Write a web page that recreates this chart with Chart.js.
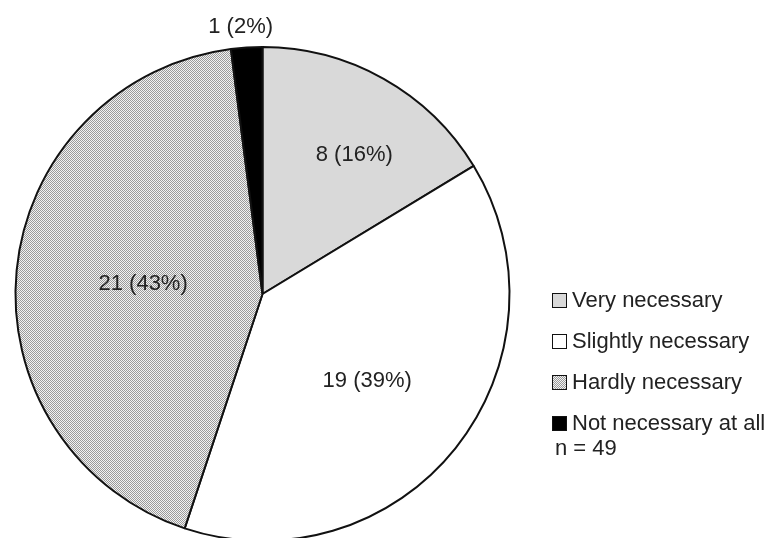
<!DOCTYPE html>
<html>
<head>
<meta charset="utf-8">
<script src="https://cdn.jsdelivr.net/npm/chart.js@4.4.0/dist/chart.umd.min.js"></script>
<style>
  html, body { margin: 0; padding: 0; background: #fff; }
  #wrap { position: relative; width: 778px; height: 538px; overflow: hidden; }
  #wrap canvas { position: absolute; left: 0; top: 0; }
  #legend { position: absolute; left: 552px; top: 288px; font-family: "Liberation Sans", Arial, sans-serif; font-size: 22px; color: #222; white-space: nowrap; }
  .item { display: flex; align-items: center; height: 24px; margin-bottom: 17px; }
  .box { width: 13px; height: 13px; border: 1.5px solid #111; margin-right: 5px; box-sizing: content-box; }
  #note { line-height: 24px; margin-top: -16px; padding-left: 3px; }
</style>
</head>
<body>
<div id="wrap">
  <canvas id="pie" width="778" height="550" style="width:778px;height:550px"></canvas>
  <div id="legend"></div>
</div>
<script>
// values
const categories = ['Very necessary', 'Slightly necessary', 'Hardly necessary', 'Not necessary at all'];
const counts = [8, 19, 21, 1];
const percents = [16, 39, 43, 2];
const sampleNote = 'n = 49';

// dotted texture for the "hardly" slice
const tile = document.createElement('canvas');
tile.width = 2; tile.height = 2;
const tctx = tile.getContext('2d');
tctx.fillStyle = '#f2f2f2';
tctx.fillRect(0, 0, 2, 2);
tctx.fillStyle = '#9a9a9a';
tctx.fillRect(0, 0, 1, 1);
tctx.fillRect(1, 1, 1, 1);

const ctx = document.getElementById('pie');
const dots = ctx.getContext('2d').createPattern(tile, 'repeat');
const fills = ['#d9d9d9', '#ffffff', dots, '#000000'];

// label placement: fraction of radius, angle shift in degrees
const labelPos = [[0.675, 4], [0.55, 1], [0.485, -0.7], [1.085, -1]];

const sliceLabels = {
  id: 'sliceLabels',
  afterDatasetsDraw(chart) {
    const c = chart.ctx;
    const arcs = chart.getDatasetMeta(0).data;
    c.save();
    c.font = '22px "Liberation Sans", Arial, sans-serif';
    c.fillStyle = '#222';
    c.textAlign = 'center';
    c.textBaseline = 'middle';
    arcs.forEach((arc, i) => {
      const mid = (arc.startAngle + arc.endAngle) / 2 + labelPos[i][1] * Math.PI / 180;
      const r = arc.outerRadius * labelPos[i][0];
      const x = arc.x + Math.cos(mid) * r;
      const y = arc.y + Math.sin(mid) * r;
      c.fillText(counts[i] + ' (' + percents[i] + '%)', x, y);
    });
    c.restore();
  }
};

new Chart(ctx, {
  type: 'pie',
  data: {
    labels: categories,
    datasets: [{
      data: counts,
      backgroundColor: fills,
      borderColor: '#111',
      borderWidth: 2
    }]
  },
  options: {
    responsive: false,
    animation: false,
    layout: { padding: { left: 14, right: 267, top: 46, bottom: 8 } },
    plugins: {
      legend: { display: false },
      tooltip: { enabled: false }
    }
  },
  plugins: [sliceLabels]
});

// legend as text beside the pie
const legend = document.getElementById('legend');
categories.forEach((name, i) => {
  const row = document.createElement('div');
  row.className = 'item';
  const box = document.createElement('span');
  box.className = 'box';
  if (i === 2) box.style.backgroundImage = 'url(' + tile.toDataURL() + ')';
  else box.style.background = fills[i];
  const txt = document.createElement('span');
  txt.textContent = name;
  row.appendChild(box);
  row.appendChild(txt);
  legend.appendChild(row);
});
const note = document.createElement('div');
note.id = 'note';
note.textContent = sampleNote;
legend.appendChild(note);
</script>
</body>
</html>
